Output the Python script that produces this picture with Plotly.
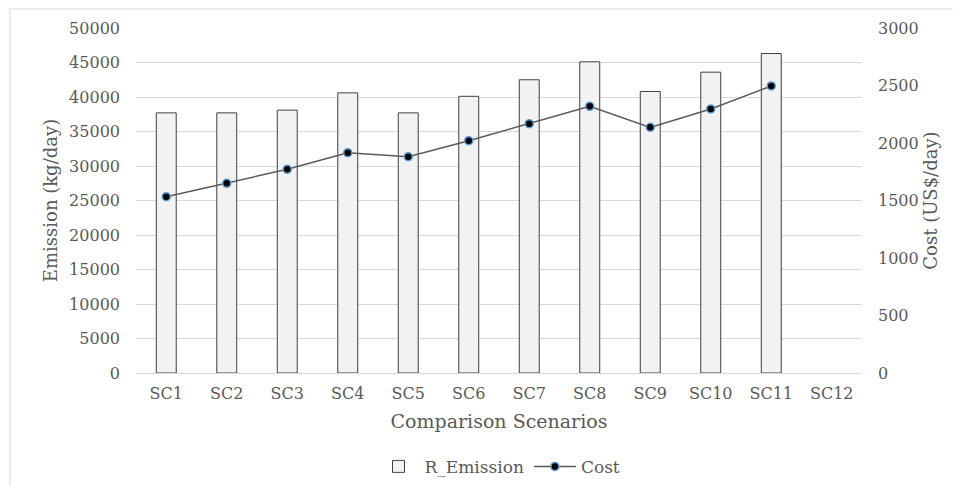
import plotly.graph_objects as go

# values
scenarios = ['SC1', 'SC2', 'SC3', 'SC4', 'SC5', 'SC6', 'SC7', 'SC8', 'SC9', 'SC10', 'SC11', 'SC12']
emission = [37700, 37700, 38100, 40600, 37700, 40100, 42500, 45100, 40800, 43600, 46300, None]
cost = [1533, 1649, 1771, 1916, 1881, 2020, 2168, 2319, 2136, 2296, 2496, None]

font_name = 'DejaVu Serif'
txt_col = '#595959'

fig = go.Figure()

fig.add_trace(go.Bar(
    x = scenarios,
    y = emission,
    name = 'R_Emission',
    marker = dict(color = '#f2f2f2', line = dict(color = '#404040', width = 1)),
    width = 0.33
))

fig.add_trace(go.Scatter(
    x = scenarios,
    y = cost,
    name = 'Cost',
    yaxis = 'y2',
    mode = 'lines+markers',
    line = dict(color = '#595959', width = 1.5),
    marker = dict(color = 'black', size = 8, line = dict(color = '#5b9bd5', width = 1.5))
))

# page body has an 8px margin, so the figure is a bit smaller than the window
fig.update_layout(
    width = 945, height = 478,
    margin = dict(l = 128, r = 91, t = 20, b = 113, autoexpand = False),
    paper_bgcolor = 'white',
    plot_bgcolor = 'white',
    font = dict(family = font_name, size = 16, color = txt_col),
    showlegend = True,
    legend = dict(orientation = 'h', x = 0.5, xanchor = 'center', y = -0.272, yanchor = 'middle',
                  font = dict(size = 17), itemwidth = 42),
    xaxis = dict(
        title = dict(text = 'Comparison Scenarios', font = dict(size = 19), standoff = 12),
        range = [-0.5, 11.5],
        showgrid = False, showline = True, linecolor = '#d9d9d9', linewidth = 1,
        ticks = '', tickfont = dict(size = 16), ticklabelstandoff = 6, automargin = False
    ),
    yaxis = dict(
        title = dict(text = 'Emission (kg/day)', font = dict(size = 18), standoff = 6),
        range = [0, 50000], dtick = 5000, tickformat = 'd', showgrid = True, gridcolor = '#d9d9d9',
        zeroline = False, ticks = '', tickfont = dict(size = 16), ticklabelstandoff = 15,
        automargin = False
    ),
    yaxis2 = dict(
        title = dict(text = 'Cost (US$/day)', font = dict(size = 18), standoff = 6),
        overlaying = 'y', side = 'right', range = [0, 3000], dtick = 500, tickformat = 'd',
        showgrid = False, zeroline = False, tickfont = dict(size = 16), ticklabelstandoff = 15,
        automargin = False
    )
)

# light outer frame around the chart area
fig.add_shape(
    type = 'rect', xref = 'paper', yref = 'paper',
    x0 = -0.1736, x1 = 1.132, y0 = -0.339, y1 = 1.055,
    line = dict(color = '#d9d9d9', width = 1), layer = 'below'
)

fig.write_html('out.html')
